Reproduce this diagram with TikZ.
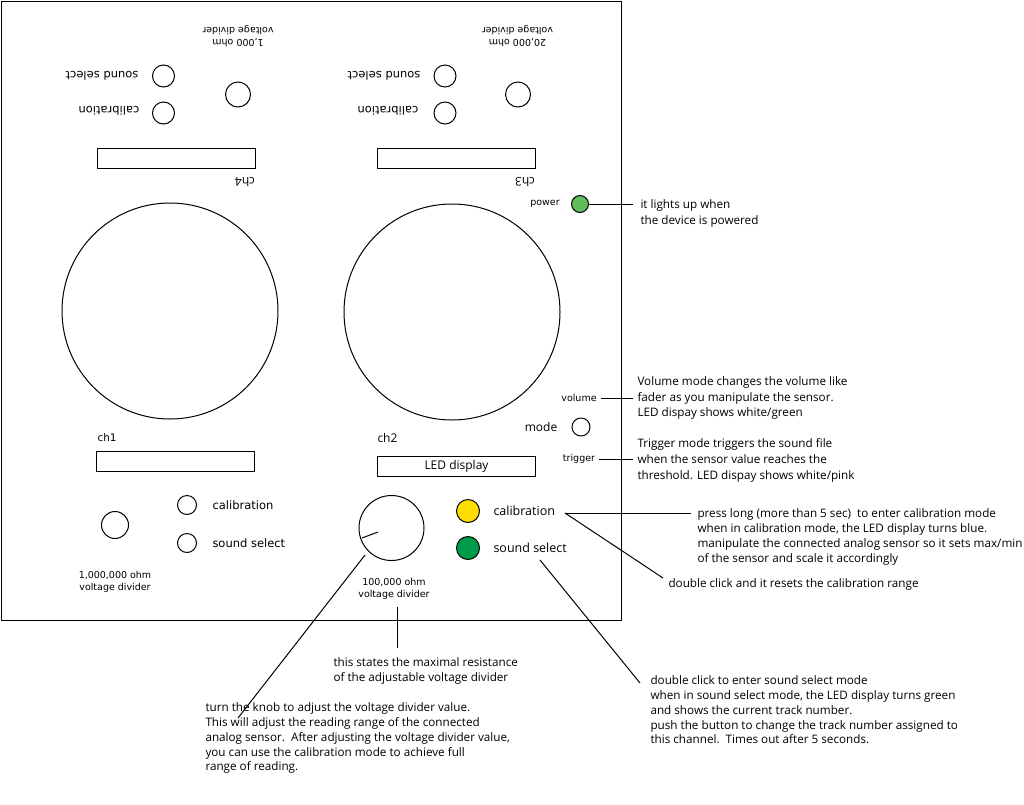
\documentclass[tikz,border=0pt]{standalone}
\usepackage{fontspec}
\setmainfont{Open Sans}
\newfontfamily\vfont{DejaVu Sans}
\definecolor{pgreen}{RGB}{98,188,90}
\definecolor{sgreen}{RGB}{0,155,72}
\definecolor{yel}{RGB}{255,221,0}
\begin{document}
\begin{tikzpicture}[x=1pt,y=-1pt,line width=1pt,
  btn/.style={circle,draw,minimum size=#1,inner sep=0pt},
  lbl/.style={inner sep=0pt,font=\vfont\fontsize{9.5}{11.5}\selectfont,align=center},
  sl/.style={inner sep=0pt,font=\vfont\fontsize{11.5}{13}\selectfont},
  chl/.style={inner sep=0pt,font=\fontsize{12}{14}\selectfont},
  big/.style={inner sep=0pt,font=\fontsize{12.5}{14}\selectfont},
  ann/.style={inner sep=0pt,font=\fontsize{11.7}{14.7}\selectfont,align=left,anchor=north west},
  disp/.style={draw,minimum width=158pt,minimum height=20pt,inner sep=0pt,anchor=north west}]
\useasboundingbox (0,0) rectangle (1024,804);
\node[draw,line width=1.3pt,minimum width=620pt,minimum height=619pt,anchor=north west,inner sep=0pt] (panel) at (1,1) {};
% top-left channel (ch4)
\node[lbl,rotate=180] (vd4) at (238,36) {1,000 ohm\\voltage divider};
\node[btn=25pt] (k4) at (238,94.5) {};
\node[btn=22pt] (ss4) at (163.5,76) {};
\node[btn=22pt] (cb4) at (163.5,113) {};
\node[sl,rotate=180] (ss4t) at (102,76) {sound select};
\node[sl,rotate=180] (cb4t) at (109,111) {calibration};
\node[disp] (d4) at (97,148) {};
\node[chl,rotate=180] (c4) at (245,182) {ch4};
% top-middle channel (ch3)
\node[lbl,rotate=180] (vd3) at (517.5,36) {20,000 ohm\\voltage divider};
\node[btn=25pt] (k3) at (518,94.5) {};
\node[btn=22pt] (ss3) at (445,76) {};
\node[btn=22pt] (cb3) at (445,113) {};
\node[sl,rotate=180] (ss3t) at (384,76) {sound select};
\node[sl,rotate=180] (cb3t) at (388,111) {calibration};
\node[disp] (d3) at (377,148) {};
\node[chl,rotate=180] (c3) at (525,182) {ch3};
% power
\node[btn=17pt,fill=pgreen] (pwr) at (580,204) {};
\node[lbl] (pwrt) at (545,204) {power};
\coordinate (pwre) at (633,204);
\draw (pwr) -- (pwre);
\node[ann,font=\fontsize{11.7}{16}\selectfont] (pwra) at (640,199) {it lights up when\\the device is powered};
% wheels
\node[btn=216pt] (w4) at (170,311) {};
\node[btn=216pt] (w3) at (452,312) {};
% mode
\node[lbl] (vol) at (579,398) {volume};
\coordinate (vole) at (633,398);
\draw ([xshift=4pt]vol.east) -- (vole);
\node[ann,font=\fontsize{11.7}{15.3}\selectfont] (vola) at (637,376.5) {Volume mode changes the volume like\\fader as you manipulate the sensor.\\LED dispay shows white/green};
\node[chl] (modet) at (541,427) {mode};
\node[btn=18pt] (mode) at (581,427) {};
\node[lbl] (trg) at (579,459) {trigger};
\coordinate (trge) at (633,459);
\draw ([xshift=3pt]trg.east) -- (trge);
\node[ann,font=\fontsize{11.7}{15.8}\selectfont] (trga) at (637,438.5) {Trigger mode triggers the sound file\\when the sensor value reaches the\\threshold. LED dispay shows white/pink};
% bottom-left channel (ch1)
\node[inner sep=0pt,anchor=west,font=\vfont\fontsize{10.5}{12}\selectfont] (c1) at (97,438) {ch1};
\node[disp] (d1) at (96,451) {};
\node[btn=27pt] (k1) at (115,525) {};
\node[btn=19pt] (cb1) at (187,505) {};
\node[btn=19pt] (ss1) at (187,543) {};
\node[sl,anchor=west] (cb1t) at (212,505) {calibration};
\node[sl,anchor=west] (ss1t) at (212,543) {sound select};
\node[lbl] (vd1) at (115,582) {1,000,000 ohm\\voltage divider};
% bottom-middle channel (ch2)
\node[chl,anchor=west] (c2) at (377,438) {ch2};
\node[disp,font=\fontsize{12}{13}\selectfont] (d2) at (377,456) {LED display};
\node[btn=65pt] (k2) at (391.5,528) {};
\draw ([shift={(-29.5,10)}]k2.center) -- ([shift={(-13.5,4)}]k2.center);
\node[lbl] (vd2) at (394,589) {100,000 ohm\\voltage divider};
\coordinate (divt) at (397,607);
\coordinate (divb) at (397,648);
\draw (divt) -- (divb);
\node[ann] (vd2a) at (333,657.5) {this states the maximal resistance\\of the adjustable voltage divider};
\coordinate (knobs) at (365,555);
\coordinate (knobe) at (238,718);
\draw (knobs) -- (knobe);
\node[ann] (knoba) at (205,702.5) {turn the knob to adjust the voltage divider value.\\This will adjust the reading range of the connected\\analog sensor.\ \ After adjusting the voltage divider value,\\you can use the calibration mode to achieve full\\range of reading.};
% colored buttons
\node[btn=23pt,fill=yel] (cb2) at (468,511) {};
\node[btn=23pt,fill=sgreen] (ss2) at (468,548) {};
\node[big,anchor=west] (cb2t) at (493,511) {calibration};
\node[big,anchor=west] (ss2t) at (493,548) {sound select};
\coordinate (calp) at (565,513);
\coordinate (cale) at (691,513);
\coordinate (cald) at (663,578);
\draw (calp) -- (cale);
\draw (calp) -- (cald);
\node[ann] (cala) at (697,508.5) {press long (more than 5 sec)\ \ to enter calibration mode\\when in calibration mode, the LED display turns blue.\\manipulate the connected analog sensor so it sets max/min\\of the sensor and scale it accordingly};
\node[ann] (calb) at (668,578.5) {double click and it resets the calibration range};
\coordinate (ssp) at (540,560);
\coordinate (sse) at (640,683);
\draw (ssp) -- (sse);
\node[ann] (ssa) at (650,675.5) {double click to enter sound select mode\\when in sound select mode, the LED display turns green\\and shows the current track number.\\push the button to change the track number assigned to\\this channel.\ \ Times out after 5 seconds.};
\end{tikzpicture}
\end{document}
